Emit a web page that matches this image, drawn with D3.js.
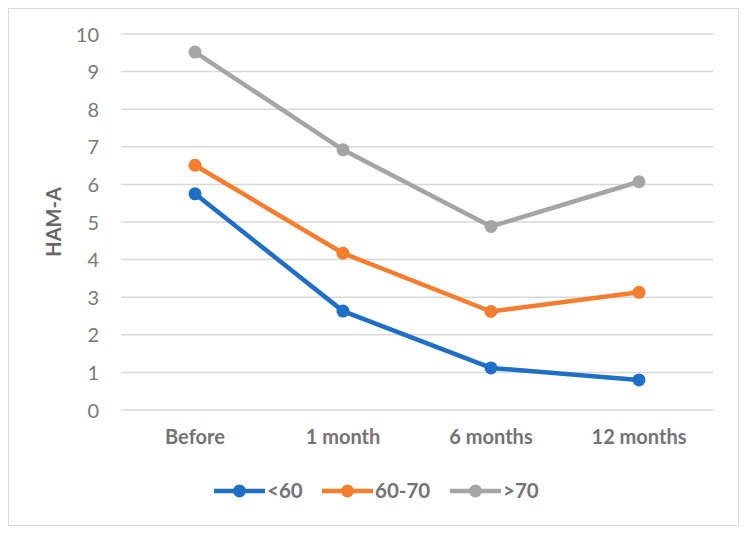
<!DOCTYPE html>
<html>
<head>
<meta charset="utf-8">
<script src="https://cdn.jsdelivr.net/npm/d3@7"></script>
<style>
  body { margin: 0; background: #fff; }
  svg text { font-family: Lato, "Open Sans", sans-serif; }
</style>
</head>
<body>
<svg id="chart" width="747" height="534"></svg>
<script>
// chart data
var categories = ["Before", "1 month", "6 months", "12 months"];
var seriesNames = ["<60", "60-70", ">70"];
var under60 = [5.75, 2.63, 1.12, 0.80];
var from60to70 = [6.51, 4.17, 2.62, 3.13];
var over70 = [9.52, 6.92, 4.88, 6.07];
var yTicks = [0, 1, 2, 3, 4, 5, 6, 7, 8, 9, 10];

var colors = ["#1f6fc6", "#f47d2e", "#a5a5a5"];
var allSeries = [under60, from60to70, over70];

var svg = d3.select("#chart");

// outer frame
svg.append("rect")
  .attr("x", 8.5).attr("y", 8.5)
  .attr("width", 730).attr("height", 517)
  .attr("fill", "#fff")
  .attr("stroke", "#d9d9d9")
  .attr("stroke-width", 1);

var plotLeft = 121, plotRight = 713, plotTop = 34, plotBottom = 410;

var x = d3.scaleBand().domain(categories).range([plotLeft, plotRight]);
var y = d3.scaleLinear().domain([0, 10]).range([plotBottom, plotTop]);

// gridlines
svg.append("g").selectAll("line")
  .data(yTicks)
  .enter().append("line")
  .attr("x1", plotLeft).attr("x2", plotRight)
  .attr("y1", function(d) { return y(d); })
  .attr("y2", function(d) { return y(d); })
  .attr("stroke", "#d9d9d9")
  .attr("stroke-width", 1.5);

// y axis labels
var yAxis = d3.axisLeft(y).tickValues(yTicks).tickSize(0).tickPadding(0);
var gy = svg.append("g").attr("transform", "translate(99,0)").call(yAxis);
gy.select(".domain").remove();
gy.selectAll("text")
  .attr("font-size", 20)
  .attr("fill", "#7a7a7a")
  .attr("dy", "0.35em");

// x axis labels
var xAxis = d3.axisBottom(x).tickSize(0).tickPadding(0);
var gx = svg.append("g").attr("transform", "translate(0,430)").call(xAxis);
gx.select(".domain").remove();
gx.selectAll("text")
  .attr("font-size", 20)
  .attr("font-weight", "bold")
  .attr("fill", "#737373")
  .attr("dy", "0.71em");

// y axis title
svg.append("text")
  .attr("transform", "translate(54,222) rotate(-90)")
  .attr("text-anchor", "middle")
  .attr("dy", "0.35em")
  .attr("font-size", 20)
  .attr("font-weight", "bold")
  .attr("fill", "#666")
  .text("HAM-A");

// lines and markers
var line = d3.line()
  .x(function(d, i) { return x(categories[i]) + x.bandwidth() / 2; })
  .y(function(d) { return y(d); });

allSeries.forEach(function(vals, s) {
  svg.append("path")
    .datum(vals)
    .attr("d", line)
    .attr("fill", "none")
    .attr("stroke", colors[s])
    .attr("stroke-width", 4.5)
    .attr("stroke-linejoin", "round");

  svg.append("g").selectAll("circle")
    .data(vals)
    .enter().append("circle")
    .attr("cx", function(d, i) { return x(categories[i]) + x.bandwidth() / 2; })
    .attr("cy", function(d) { return y(d); })
    .attr("r", 6.5)
    .attr("fill", colors[s]);
});

// legend
var legendX = [214, 322, 450];
var legend = svg.append("g").selectAll("g")
  .data(seriesNames)
  .enter().append("g")
  .attr("transform", function(d, i) { return "translate(" + legendX[i] + ",491)"; });

legend.append("line")
  .attr("x1", 0).attr("x2", 51)
  .attr("stroke", function(d, i) { return colors[i]; })
  .attr("stroke-width", 4.5);

legend.append("circle")
  .attr("cx", 25.5).attr("r", 6.5)
  .attr("fill", function(d, i) { return colors[i]; });

legend.append("text")
  .attr("x", 53)
  .attr("dy", "0.35em")
  .attr("font-size", 20.5)
  .attr("font-weight", "bold")
  .attr("fill", "#737373")
  .text(function(d) { return d; });
</script>
</body>
</html>
